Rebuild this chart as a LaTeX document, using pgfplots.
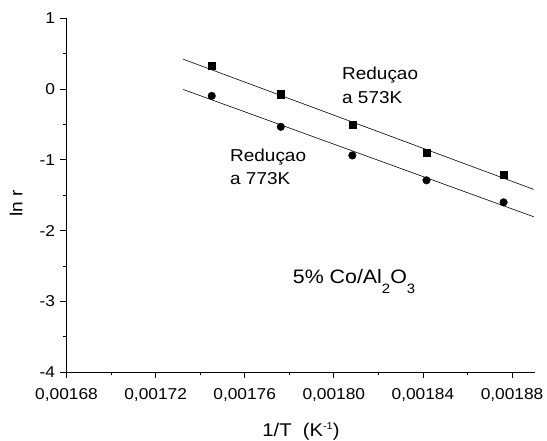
\documentclass[border=0pt]{standalone}
\usepackage{fontspec}
\setmainfont{Liberation Sans}[FakeStretch=1.1]
\usepackage{pgfplots}
\pgfplotsset{compat=1.18}
\begin{document}
\begin{tikzpicture}
\begin{axis}[
  name=ax,
  scale only axis,
  width=468.5bp, height=353.5bp,
  xmin=0.00168, xmax=0.0018903,
  ymin=-4, ymax=1,
  axis lines=left,
  axis line style={-, line width=0.8pt},
  tick align=outside,
  major tick length=6bp,
  minor tick length=3.5bp,
  tick style={black, line width=0.8pt},
  xtick={0.00168,0.00172,0.00176,0.00180,0.00184,0.00188},
  xticklabels={0{,}00168,0{,}00172,0{,}00176,0{,}00180,0{,}00184,0{,}00188},
  minor xtick={0.00170,0.00174,0.00178,0.00182,0.00186},
  ytick={-4,-3,-2,-1,0,1},
  yticklabels={-4,-3,-2,-1,0,1},
  minor ytick={-3.5,-2.5,-1.5,-0.5,0.5},
  scaled x ticks=false,
  ticklabel style={font=\fontsize{15.8}{18}\selectfont},
  xticklabel style={anchor=base, yshift=-22bp},
  yticklabel style={xshift=-2bp},
  clip=false,
]
\addplot[black, line width=0.6pt] coordinates {(0.0017324,0.424) (0.0018897,-1.417)};
\addplot[black, line width=0.6pt] coordinates {(0.0017324,-0.004) (0.0018897,-1.804)};
\addplot[only marks, mark=square*, mark size=3.6bp, black] coordinates {
(0.0017452,0.329) (0.0017762,-0.071) (0.0018083,-0.499) (0.0018416,-0.894) (0.0018762,-1.205)};
\addplot[only marks, mark=*, mark size=3.8bp, black] coordinates {
(0.0017452,-0.095) (0.0017762,-0.532) (0.0018083,-0.937) (0.0018416,-1.289) (0.0018762,-1.60)};
\end{axis}
\path[use as bounding box] ([xshift=-66.5bp,yshift=-69bp]ax.south west) rectangle ([xshift=12bp,yshift=18.5bp]ax.north east);
\begin{scope}[every node/.style={anchor=base west, inner sep=0pt, font=\fontsize{17.3}{20}\selectfont}]
\node at ([xshift=275.5bp,yshift=-60.8bp]ax.north west) {Reduçao};
\node at ([xshift=275.5bp,yshift=-84.8bp]ax.north west) {a 573K};
\node at ([xshift=163.5bp,yshift=-143.2bp]ax.north west) {Reduçao};
\node at ([xshift=163.5bp,yshift=-166.5bp]ax.north west) {a 773K};
\node[font=\fontsize{19.5}{22}\selectfont] at ([xshift=226.2bp,yshift=-264.8bp]ax.north west) {5\% Co/Al\raisebox{-10bp}{\fontsize{13.6}{15}\selectfont 2}O\raisebox{-10bp}{\fontsize{13.6}{15}\selectfont 3}};
\node[anchor=base, font=\fontsize{18.5}{21}\selectfont] at ([xshift=234.5bp,yshift=-64.7bp]ax.south west) {1/T\hspace{0.6em}(K\raisebox{7bp}{\fontsize{10}{12}\selectfont -1})};
\end{scope}
\node[rotate=90, font=\fontsize{17.5}{21}\selectfont] at ([xshift=-50.5bp,yshift=169bp]ax.south west) {ln r};
\end{tikzpicture}
\end{document}
